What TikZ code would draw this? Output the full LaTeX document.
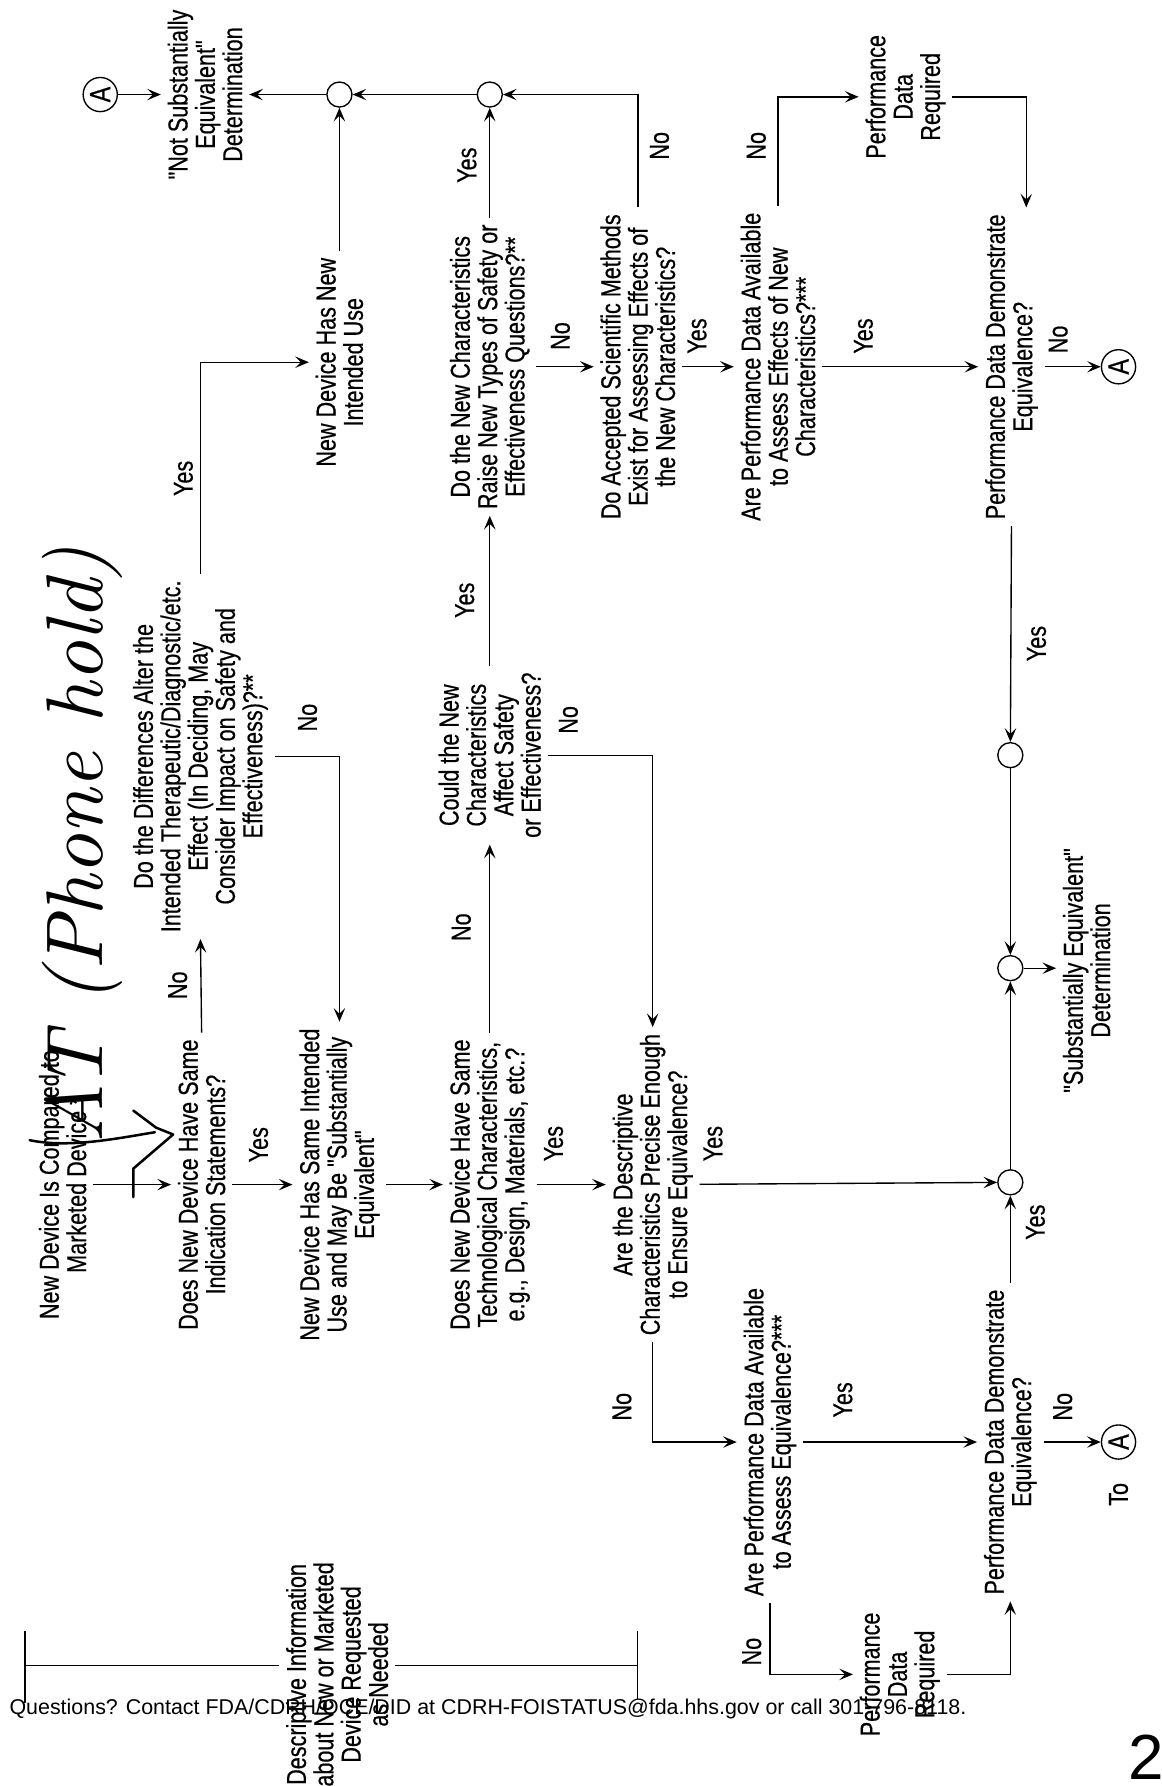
\documentclass[tikz,border=0pt]{standalone}
\usepackage{fontspec}
\usepackage{graphicx}
\setmainfont{Liberation Sans}
\newfontfamily\cond{Liberation Sans}[FakeStretch=0.79,FakeBold=0.5]
\newfontfamily\handfont{Latin Modern Roman}
\usetikzlibrary{arrows.meta,calc}
\begin{document}
\begin{tikzpicture}[x=0.5pt,y=-0.5pt,
  txt/.style={rotate=90,align=center,inner sep=1pt,outer sep=2pt,font=\cond\fontsize{12}{12}\selectfont},
  lab/.style={rotate=90,inner sep=0pt,font=\cond\fontsize{12}{12}\selectfont},
  junc/.style={circle,draw,line width=0.6pt,minimum size=11pt,inner sep=0pt},
  conn/.style={circle,draw,line width=0.6pt,minimum size=15pt,inner sep=0pt,rotate=90,font=\cond\fontsize{13}{13}\selectfont},
  arr/.style={line width=0.6pt,-{Stealth[length=6pt,width=5pt,inset=2.5pt]}},
  ln/.style={line width=0.6pt},
  hand/.style={line width=1.1pt,line cap=round,line join=round}]
\useasboundingbox (0,0) rectangle (1020,1568);

% main nodes
\node[txt] (start) at (55,1040) {New Device Is Compared to\\Marketed Device *};
\node[txt] (ind) at (177,1040) {Does New Device Have Same\\Indication Statements?};
\node[txt] (same) at (298,1040) {New Device Has Same Intended\\Use and May Be "Substantially\\Equivalent"};
\node[txt] (tech) at (430,1040) {Does New Device Have Same\\Technological Characteristics,\\e.g., Design, Materials, etc.?};
\node[txt] (desc) at (573,1040) {Are the Descriptive\\Characteristics Precise Enough\\to Ensure Equivalence?};
\node[junc] (cB) at (887,1038) {};
\node[txt] (diff) at (176,664) {Do the Differences Alter the\\Intended Therapeutic/Diagnostic/etc.\\Effect (In Deciding, May\\Consider Impact on Safety and\\Effectiveness)?**};
\node[txt] (could) at (430,663) {Could the New\\Characteristics\\Affect Safety\\or Effectiveness?};
\node[junc] (c3) at (887,663) {};
\node[junc] (cSE) at (887,850) {};
\node[txt] (se) at (954,852) {"Substantially Equivalent"\\Determination};
\node[txt] (newuse) at (298,318) {New Device Has New\\Intended Use};
\node[junc] (c1) at (298,83) {};
\node[junc] (c2) at (430,83) {};
\node[txt] (nse) at (180,83) {"Not Substantially\\Equivalent"\\Determination};
\node[conn] (A1) at (88,83) {A};
\node[txt] (newchar) at (430,322) {Do the New Characteristics\\Raise New Types of Safety or\\Effectiveness Questions?**};
\node[txt] (acc) at (560,322) {Do Accepted Scientific Methods\\Exist for Assessing Effects of\\the New Characteristics?};
\node[txt] (perf1) at (683,322) {Are Performance Data Available\\to Assess Effects of New\\Characteristics?***};
\node[txt] (req1) at (795,85) {Performance\\Data\\Required};
\node[txt] (demo1) at (888,322) {Performance Data Demonstrate\\Equivalence?};
\node[conn] (A2) at (982,322) {A};
\node[txt] (perf2) at (676,1266) {Are Performance Data Available\\to Assess Equivalence?***};
\node[txt] (demo2) at (887,1266) {Performance Data Demonstrate\\Equivalence?};
\node[conn] (A3) at (982,1266) {A};
\node[lab] (to) at (982,1312) {To};
\node[txt] (req2) at (790,1470) {Performance\\Data\\Required};
\node[txt] (info) at (296,1470) {Descriptive Information\\about New or Marketed\\Device Requested\\as Needed};

% connectors
\draw[arr] (start) -- (ind);
\draw[arr] (ind) -- (same);
\draw[arr] (same) -- (tech);
\draw[arr] (tech) -- (desc);
\draw[arr] (desc) -- (cB);
\draw[arr] (ind.east) -- (diff.west);
\draw[arr] (diff.south) -| (same.east);
\draw[arr] (diff.east) |- (newuse);
\draw[arr] (newuse.east) -- (c1);
\draw[arr] (c2) -- (c1);
\draw[arr] (c1) -- (nse);
\draw[arr] (A1) -- (nse);
\draw[arr] (tech.east) -- (could.west);
\draw[arr] (could.east) -- (newchar.west);
\draw[arr] (could.south) -| (desc.east);
\draw[arr] (newchar.east) -- (c2);
\draw[arr] (newchar) -- (acc);
\draw[arr] (acc.east) |- (c2);
\draw[arr] (acc) -- (perf1);
\draw[arr] (perf1.east) |- (req1);
\draw[arr] (req1.south) -| ($(demo1.east)+(13,0)$);
\draw[arr] (perf1) -- (demo1);
\draw[arr] (demo1) -- (A2);
\draw[arr] (demo1.west) -- (c3);
\draw[arr] (c3) -- (cSE);
\draw[arr] (cB) -- (cSE);
\draw[arr] (cSE) -- (cSE -| se.north);
\draw[arr] (desc.west) |- (perf2);
\draw[arr] (perf2) -- (demo2);
\draw[arr] (demo2) -- (A3);
\draw[arr] (demo2.east) -- (cB);
\draw[arr] (perf2.west) |- (req2);
\draw[arr] (req2.south) -| (demo2.west);

% cut-off connector around the descriptive-information note
\coordinate (barT) at (22,1432);
\coordinate (barB) at (22,1495);
\coordinate (barM) at (22,1462);
\coordinate (tickM) at (560,1462);
\coordinate (tickT) at (560,1432);
\coordinate (tickB) at (560,1492);
\draw[line width=1.2pt] (barT) -- (barB);
\draw[ln] (barM) -- (barM -| info.north);
\draw[ln] (info.south |- tickM) -- (tickM);
\draw[line width=0.4pt] (tickT) -- (tickB);

% labels
\node[lab] at (227,1005) {Yes};
\node[lab] at (156,865) {No};
\node[lab] at (270,630) {No};
\node[lab] at (161,420) {Yes};
\node[lab] at (405,814) {No};
\node[lab] at (486,1004) {Yes};
\node[lab] at (408,527) {Yes};
\node[lab] at (499,632) {No};
\node[lab] at (410,145) {Yes};
\node[lab] at (492,295) {No};
\node[lab] at (579,128) {No};
\node[lab] at (612,295) {Yes};
\node[lab] at (664,128) {No};
\node[lab] at (758,295) {Yes};
\node[lab] at (929,298) {No};
\node[lab] at (910,565) {Yes};
\node[lab] at (626,1004) {Yes};
\node[lab] at (546,1235) {No};
\node[lab] at (740,1229) {Yes};
\node[lab] at (933,1235) {No};
\node[lab] at (909,1073) {Yes};
\node[lab] at (660,1450) {No};

% footer
\node[anchor=west,inner sep=0pt] (foot) at (8,1500) {\resizebox{420pt}{!}{Questions? Contact FDA/CDRH/OCE/DID at CDRH-FOISTATUS@fda.hhs.gov or call 301-796-8118.}};

% handwriting
\node[rotate=90,inner sep=0pt] (handnote) at (72,742) {\resizebox{262pt}{!}{\handfont\itshape AT (Phone hold)}};
\draw[hand] (26,1001) .. controls (60,1008) and (100,1000) .. (136,994);
\draw[hand] (117,975) -- (137,990) -- (152,996) -- (117,1026) -- (117,1051);
\node[inner sep=0pt,font=\fontsize{28}{28}\selectfont] (pagenum) at (1006,1543) {2};
\end{tikzpicture}
\end{document}
